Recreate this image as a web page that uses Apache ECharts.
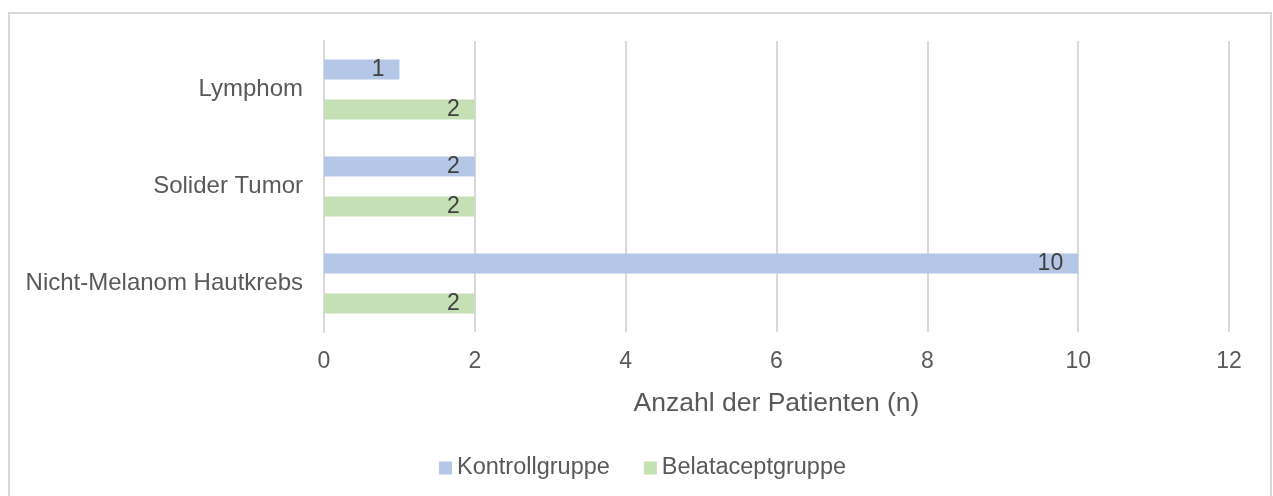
<!DOCTYPE html>
<html>
<head>
<meta charset="utf-8">
<script src="https://cdn.jsdelivr.net/npm/echarts@6/dist/echarts.min.js"></script>
<style>
  html, body { margin: 0; padding: 0; background: #fff; }
  #chart { width: 1273px; height: 496px; }
</style>
</head>
<body>
<div id="chart"></div>
<script>
var categories = ['Lymphom', 'Solider Tumor', 'Nicht-Melanom Hautkrebs'];
var kontrollValues = [1, 2, 10];
var belataceptValues = [2, 2, 2];
var seriesNames = ['Kontrollgruppe', 'Belataceptgruppe'];

var myChart = echarts.init(document.getElementById('chart'));

var labelStyle = {
    show: true,
    position: 'insideRight',
    distance: 15,
    color: '#404040',
    fontSize: 23,
    fontFamily: 'Liberation Sans'
};

var option = {
    textStyle: { fontFamily: 'Liberation Sans' },
    animation: false,
    graphic: [
        {
            type: 'rect',
            shape: { x: 9, y: 13, width: 1262, height: 500 },
            style: { fill: 'none', stroke: '#d9d9d9', lineWidth: 2 },
            silent: true
        }
    ],
    grid: {
        left: 324,
        right: 44,
        top: 41,
        bottom: 164
    },
    legend: {
        bottom: 11,
        left: 434,
        itemWidth: 13,
        itemHeight: 13,
        itemGap: 34,
        icon: 'rect',
        textStyle: { color: '#595959', fontSize: 23.5, fontFamily: 'Liberation Sans' },
        data: seriesNames
    },
    xAxis: {
        type: 'value',
        min: 0,
        max: 12,
        interval: 2,
        name: 'Anzahl der Patienten (n)',
        nameLocation: 'middle',
        nameGap: 58,
        nameTextStyle: { color: '#595959', fontSize: 26.5, fontFamily: 'Liberation Sans' },
        axisLine: { show: false },
        axisTick: { show: false },
        axisLabel: { color: '#595959', fontSize: 23, margin: 18 },
        splitLine: { show: true, lineStyle: { color: '#d9d9d9', width: 2 } }
    },
    yAxis: {
        type: 'category',
        inverse: true,
        data: categories,
        axisLine: { show: true, lineStyle: { color: '#d9d9d9', width: 2 } },
        axisTick: { show: false },
        axisLabel: { color: '#595959', fontSize: 24, margin: 21 }
    },
    series: [
        {
            name: seriesNames[0],
            type: 'bar',
            data: kontrollValues,
            barGap: '100%',
            barCategoryGap: '38%',
            itemStyle: { color: '#b4c7e7' },
            label: labelStyle
        },
        {
            name: seriesNames[1],
            type: 'bar',
            data: belataceptValues,
            barGap: '100%',
            barCategoryGap: '38%',
            itemStyle: { color: '#c5e0b4' },
            label: labelStyle
        }
    ]
};

myChart.setOption(option);
</script>
</body>
</html>
